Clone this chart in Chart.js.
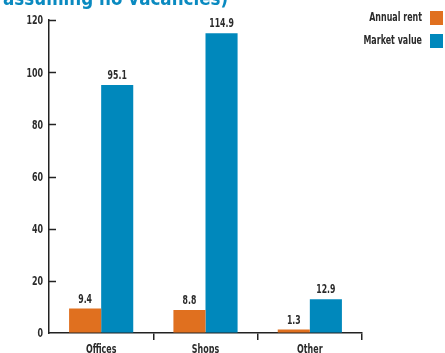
<!DOCTYPE html>
<html>
<head>
<meta charset="utf-8">
<script src="https://cdn.jsdelivr.net/npm/chart.js@4.4.1/dist/chart.umd.min.js"></script>
<style>
html,body{margin:0;padding:0;background:#fff;}
#wrap{position:relative;width:445px;height:353px;}
</style>
</head>
<body>
<div id="wrap"><canvas id="c" width="445" height="353"></canvas></div>
<script>
const categories = ["Offices", "Shops", "Other"];
const annualRent = [9.4, 8.8, 1.3];
const marketValue = [95.1, 114.9, 12.9];
const seriesNames = ["Annual rent", "Market value"];
const yTicks = [0, 20, 40, 60, 80, 100, 120];
const titleText = "assuming no vacancies)";

const FONT = "'DejaVu Sans Condensed', 'Liberation Sans Narrow', sans-serif";
const ORANGE = '#E0701F';
const BLUE = '#0088BC';
const INK = '#2b2b2b';

function narrowText(ctx, text, x, y, size, sx, align, baseline, color) {
  ctx.save();
  ctx.font = "bold " + size + "px " + FONT;
  ctx.fillStyle = color;
  ctx.textAlign = align;
  ctx.textBaseline = baseline;
  ctx.translate(x, y);
  ctx.scale(sx, 1);
  ctx.fillText(text, 0, 0);
  ctx.restore();
}

const extras = {
  id: 'extras',
  afterDraw(chart) {
    const ctx = chart.ctx;
    const ca = chart.chartArea;
    const y = chart.scales.y;
    const x = chart.scales.x;
    ctx.save();
    ctx.strokeStyle = '#222';
    ctx.lineWidth = 1.5;
    yTicks.forEach(v => {
      const py = Math.round(y.getPixelForValue(v)) + 0.5;
      if (v !== 0) {
        ctx.beginPath();
        ctx.moveTo(ca.left, py);
        ctx.lineTo(ca.left + 7, py);
        ctx.stroke();
      }
      narrowText(ctx, String(v), ca.left - 6, y.getPixelForValue(v) + 1, 13, 0.68, 'right', 'middle', INK);
    });
    categories.forEach((c, i) => {
      narrowText(ctx, c, x.getPixelForValue(i), ca.bottom + 10, 13, 0.68, 'center', 'top', INK);
    });
    chart.data.datasets.forEach((ds, di) => {
      const meta = chart.getDatasetMeta(di);
      meta.data.forEach((bar, i) => {
        narrowText(ctx, ds.data[i].toFixed(1), bar.x, bar.y - 3, 12, 0.72, 'center', 'bottom', INK);
      });
    });
    const legendColors = [ORANGE, BLUE];
    const legendY = [18, 41];
    seriesNames.forEach((n, i) => {
      narrowText(ctx, n, 422, legendY[i], 13, 0.68, 'right', 'middle', INK);
      ctx.fillStyle = legendColors[i];
      ctx.fillRect(430, legendY[i] - 7, 13, 14);
    });
    narrowText(ctx, titleText, 3, 5, 20, 0.93, 'left', 'alphabetic', '#0A8AC0');
    ctx.restore();
  }
};

new Chart(document.getElementById('c'), {
  type: 'bar',
  data: {
    labels: categories,
    datasets: [
      { label: seriesNames[0], data: annualRent, backgroundColor: ORANGE, categoryPercentage: 0.615, barPercentage: 1.0 },
      { label: seriesNames[1], data: marketValue, backgroundColor: BLUE, categoryPercentage: 0.615, barPercentage: 1.0 }
    ]
  },
  options: {
    responsive: false,
    animation: false,
    devicePixelRatio: 1,
    layout: { padding: { top: 20, right: 83, left: 0, bottom: 0 } },
    plugins: { legend: { display: false }, tooltip: { enabled: false }, title: { display: false } },
    scales: {
      x: {
        offset: true,
        grid: {
          offset: true,
          drawOnChartArea: false,
          drawTicks: true,
          tickLength: 7,
          lineWidth: 1.5,
          color: (c) => (c.index === 0 ? 'rgba(0,0,0,0)' : '#222')
        },
        border: { display: true, color: '#222', width: 1.5 },
        ticks: { display: false },
        afterFit(s) { s.height = 20; }
      },
      y: {
        min: 0,
        max: 120,
        grid: { drawOnChartArea: false, drawTicks: false },
        border: { display: true, color: '#222', width: 1.5 },
        ticks: { display: false, stepSize: 20 },
        afterFit(s) { s.width = 49; }
      }
    }
  },
  plugins: [extras]
});
</script>
</body>
</html>
